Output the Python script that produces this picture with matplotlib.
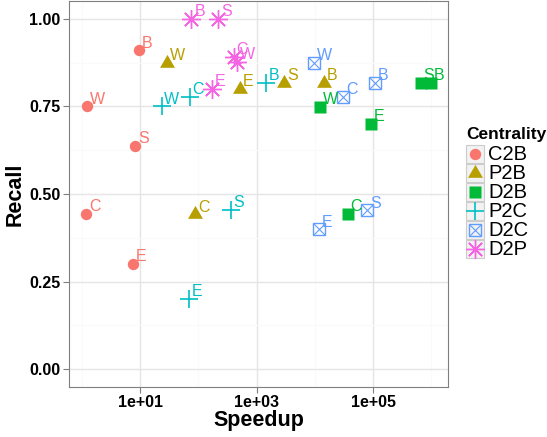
"""Recall vs speedup scatter, ggplot theme_bw look-alike."""
import matplotlib

matplotlib.use("Agg")
import matplotlib.pyplot as plt
from matplotlib.patches import Rectangle
from matplotlib.ticker import FixedLocator, NullFormatter

plt.rcParams["font.family"] = ["Liberation Sans", "DejaVu Sans"]

groups = ["C2B", "P2B", "D2B", "P2C", "D2C", "D2P"]
colors = ["#F8766D", "#B79F00", "#00BA38", "#00BFC4", "#619CFF", "#F564E3"]

c2b_lab = ["B", "W", "S", "C", "E"]
c2b_speed = [9.6, 1.22, 8.3, 1.19, 7.5]
c2b_recall = [0.91, 0.75, 0.637, 0.443, 0.30]

p2b_lab = ["W", "E", "S", "B", "C"]
p2b_speed = [29, 527, 2990, 14100, 88]
p2b_recall = [0.875, 0.80, 0.818, 0.818, 0.442]

d2b_lab = ["W", "E", "S", "B", "C"]
d2b_speed = [12200, 91400, 650000, 1000000, 36800]
d2b_recall = [0.749, 0.70, 0.818, 0.818, 0.444]

p2c_lab = ["W", "C", "B", "S", "E"]
p2c_speed = [23.3, 71.3, 1440, 356, 68.5]
p2c_recall = [0.75, 0.778, 0.818, 0.454, 0.20]

d2c_lab = ["W", "C", "B", "E", "S"]
d2c_speed = [9770, 30500, 108000, 11900, 78500]
d2c_recall = [0.875, 0.778, 0.817, 0.399, 0.453]

d2p_lab = ["B", "S", "C", "W", "E"]
d2p_speed = [76, 218, 406, 457, 172]
d2p_recall = [1.0, 1.0, 0.891, 0.877, 0.80]

data = {
    "C2B": (c2b_speed, c2b_recall, c2b_lab),
    "P2B": (p2b_speed, p2b_recall, p2b_lab),
    "D2B": (d2b_speed, d2b_recall, d2b_lab),
    "P2C": (p2c_speed, p2c_recall, p2c_lab),
    "D2C": (d2c_speed, d2c_recall, d2c_lab),
    "D2P": (d2p_speed, d2p_recall, d2p_lab),
}

x_major = [1e1, 1e3, 1e5]
x_major_lab = ["1e+01", "1e+03", "1e+05"]
x_minor = [1e0, 1e2, 1e4, 1e6]
y_major = [0.0, 0.25, 0.5, 0.75, 1.0]
y_minor = [0.125, 0.375, 0.625, 0.875]

TRI = [(0, 1), (-0.866, -0.5), (0.866, -0.5)]


def draw_marker(ax, x, y, g, c):
    kw = dict(ls="none", color=c)
    if g == "C2B":
        ax.plot(x, y, marker="o", ms=8.2, mec="none", **kw)
    elif g == "P2B":
        ax.plot(x, y, marker=TRI, ms=12.4, mec="none", **kw)
    elif g == "D2B":
        ax.plot(x, y, marker="s", ms=8.2, mec="none", **kw)
    elif g == "P2C":
        ax.plot(x, y, marker="+", ms=13, mew=1.2, **kw)
    elif g == "D2C":
        ax.plot(x, y, marker="s", ms=8.6, mfc="none", mew=1.0, **kw)
        ax.plot(x, y, marker="x", ms=8.6, mew=0.8, **kw)
    elif g == "D2P":
        ax.plot(x, y, marker=(8, 2, 0), ms=13.5, mew=1.0, **kw)


fig = plt.figure(figsize=(5.47, 4.37), dpi=100)
ax = fig.add_axes([69 / 547, 1 - 386.5 / 437, (448 - 69) / 547, (386.5 - 1.5) / 437])

for g, c in zip(groups, colors):
    sp, rc, lab = data[g]
    draw_marker(ax, sp, rc, g, c)
    for xi, yi, t in zip(sp, rc, lab):
        ax.annotate(t, (xi, yi), xytext=(2.0, 2.0), textcoords="offset points",
                    ha="left", va="baseline", fontsize=11.5, color=c)

ax.set_xscale("log")
ax.set_xlim(10 ** -0.222, 10 ** 6.285)
ax.set_ylim(-0.05, 1.05)

ax.xaxis.set_major_locator(FixedLocator(x_major))
ax.set_xticklabels(x_major_lab)
ax.xaxis.set_minor_locator(FixedLocator(x_minor))
ax.xaxis.set_minor_formatter(NullFormatter())
ax.yaxis.set_major_locator(FixedLocator(y_major))
ax.set_yticklabels(["%.2f" % v for v in y_major])
ax.yaxis.set_minor_locator(FixedLocator(y_minor))

ax.grid(True, which="major", color="#E5E5E5", lw=1.0)
ax.grid(True, which="minor", color="#FAFAFA", lw=0.8)
ax.set_axisbelow(True)
for s in ax.spines.values():
    s.set_color("#7F7F7F")
    s.set_linewidth(0.8)

ax.tick_params(which="major", length=4, width=0.8, color="#7F7F7F", pad=2,
               labelsize=11.5, labelcolor="black")
ax.tick_params(which="minor", length=0)
for t in ax.get_xticklabels() + ax.get_yticklabels():
    t.set_fontweight("bold")

ax.set_xlabel("Speedup", fontsize=15.5, fontweight="bold", labelpad=0)
ax.set_ylabel("Recall", fontsize=15.5, fontweight="bold", labelpad=3)

# legend drawn by hand in pixel coordinates
lax = fig.add_axes([0, 0, 1, 1], facecolor="none")
lax.set_xlim(0, 547)
lax.set_ylim(437, 0)
lax.axis("off")
lax.text(466, 135, "Centrality", fontsize=12.5, fontweight="bold",
         ha="left", va="center")
for i, (g, c) in enumerate(zip(groups, colors)):
    yc = 154.3 + i * 18.9
    lax.add_patch(Rectangle((465.5, yc - 9), 18, 18, facecolor="#F2F2F2",
                            edgecolor="#CCCCCC", lw=0.8))
    draw_marker(lax, [474.5], [yc], g, c)
    lax.text(488, yc + 0.5, g, fontsize=14.5, ha="left", va="center")

fig.savefig("out.png", dpi=100)
